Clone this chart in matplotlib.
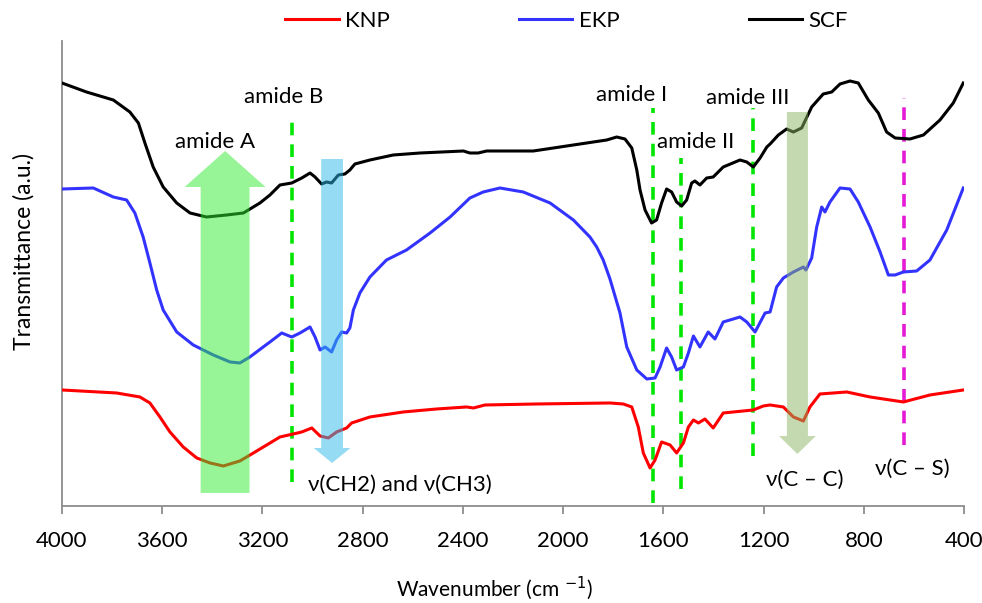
import numpy as np
import matplotlib.pyplot as plt

plt.rcParams['font.family'] = ['Lato', 'DejaVu Sans']

# FTIR spectra (offset, arbitrary transmittance units)
wn_scf = [4000, 3902, 3795, 3729, 3695, 3669, 3636, 3596, 3542, 3489, 3423, 3343,
          3276, 3210, 3170, 3130, 3083, 3043, 3010, 2990, 2964, 2944, 2924, 2897,
          2871, 2851, 2831, 2771, 2678, 2571, 2398, 2372, 2339, 2305, 2119, 2039,
          1906, 1826, 1786, 1753, 1726, 1706, 1693, 1673, 1647, 1627, 1607, 1587,
          1567, 1547, 1527, 1507, 1487, 1474, 1454, 1427, 1401, 1361, 1294, 1267,
          1241, 1214, 1187, 1174, 1141, 1108, 1081, 1048, 1008, 962, 928, 895,
          855, 822, 782, 742, 709, 675, 616, 562, 496, 443, 403]
t_scf = [423, 414, 406, 394, 383, 363, 339, 319, 303, 293, 289, 291,
         293, 303, 311, 321, 323, 328, 333, 329, 322, 324, 323, 331,
         332, 336, 342, 346, 351, 353, 355, 353, 353, 355, 355, 358,
         363, 366, 369, 367, 358, 336, 316, 296, 283, 286, 303, 317,
         314, 304, 300, 306, 323, 325, 321, 328, 329, 339, 346, 344,
         339, 348, 359, 362, 371, 377, 374, 378, 399, 412, 414, 422,
         425, 423, 406, 393, 374, 368, 367, 371, 386, 403, 423]

wn_ekp = [4000, 3875, 3795, 3742, 3709, 3676, 3649, 3622, 3596, 3542, 3476, 3396,
          3329, 3290, 3250, 3197, 3170, 3123, 3083, 3050, 3010, 2990, 2970, 2950,
          2924, 2904, 2884, 2864, 2851, 2837, 2811, 2771, 2705, 2625, 2531, 2451,
          2372, 2319, 2252, 2159, 2052, 1959, 1893, 1866, 1840, 1813, 1773, 1746,
          1706, 1666, 1633, 1613, 1587, 1567, 1547, 1520, 1500, 1480, 1454, 1421,
          1394, 1361, 1294, 1267, 1234, 1194, 1174, 1148, 1121, 1081, 1041, 1031,
          1008, 988, 968, 955, 935, 895, 855, 822, 775, 735, 702, 675,
          642, 589, 536, 469, 403]
t_ekp = [317, 318, 309, 306, 293, 269, 243, 216, 196, 174, 161, 151,
         144, 143, 149, 159, 164, 173, 169, 173, 179, 169, 156, 159,
         154, 166, 174, 173, 178, 196, 213, 229, 246, 256, 273, 289,
         308, 314, 318, 314, 303, 286, 269, 259, 246, 227, 193, 159,
         136, 127, 128, 139, 158, 149, 136, 139, 153, 170, 159, 174,
         167, 184, 189, 184, 174, 193, 194, 219, 228, 234, 239, 236,
         248, 279, 299, 294, 304, 318, 317, 304, 279, 254, 231, 231,
         234, 235, 246, 276, 318]

wn_knp = [4000, 3782, 3689, 3649, 3609, 3569, 3516, 3462, 3409, 3356, 3290, 3236,
          3183, 3130, 3077, 3043, 3003, 2970, 2937, 2904, 2864, 2844, 2771, 2638,
          2505, 2385, 2358, 2312, 2106, 1813, 1760, 1726, 1700, 1680, 1653, 1633,
          1607, 1573, 1547, 1520, 1500, 1480, 1460, 1434, 1401, 1361, 1241, 1201,
          1174, 1121, 1081, 1041, 1015, 975, 868, 775, 642, 536, 403]
t_knp = [116, 113, 109, 103, 89, 74, 59, 48, 43, 40, 45, 53,
         61, 69, 72, 74, 78, 70, 68, 74, 78, 83, 89, 94,
         97, 99, 98, 101, 102, 103, 102, 99, 79, 53, 38, 46,
         64, 61, 53, 63, 79, 86, 83, 87, 78, 93, 96, 100,
         101, 99, 89, 85, 99, 112, 114, 109, 104, 111, 116]

# band markers: (wavenumber, y bottom, y top)
amide_lines = [(3082, 24, 389), (1641, 3, 398), (1530, 17, 348), (1242, 50, 398)]
cs_line = (640, 61, 408)

fig = plt.figure(figsize=(9.82, 6.03), dpi=100)
ax = fig.add_axes([0.0631, 0.1609, 0.9186, 0.7711])

ax.plot(wn_knp, t_knp, color='#ff0000', lw=2.2, label='KNP', zorder=3)
ax.plot(wn_ekp, t_ekp, color='#3333ff', lw=2.2, label='EKP', zorder=3)
ax.plot(wn_scf, t_scf, color='black', lw=2.2, label='SCF', zorder=3)

for x, y0, y1 in amide_lines:
    ax.plot([x, x], [y0, y1], color='#00e600', lw=2.6, ls=(0, (3.5, 2.5)), zorder=2)
ax.plot([cs_line[0]] * 2, cs_line[1:], color='#e619d6', lw=2.6, ls=(0, (3.5, 2.5)), zorder=2)

# band arrows (translucent, on top of the spectra)
ax.arrow(3349, 13, 0, 342, width=195, head_width=323, head_length=36,
         length_includes_head=True, color='#31eb31', alpha=0.5, lw=0, zorder=4)
ax.arrow(2922, 347, 0, -304, width=87, head_width=147, head_length=15,
         length_includes_head=True, color='#2db9eb', alpha=0.5, lw=0, zorder=4)
ax.arrow(1065, 394, 0, -342, width=84, head_width=147, head_length=18,
         length_includes_head=True, color='#8bb561', alpha=0.5, lw=0, zorder=4)

fs = 16
ax.text(3389, 364, 'amide A', fontsize=fs, ha='center', va='center')
ax.text(3114, 409, 'amide B', fontsize=fs, ha='center', va='center')
ax.text(1725, 411, 'amide I', fontsize=fs, ha='center', va='center')
ax.text(1470, 364, 'amide II', fontsize=fs, ha='center', va='center')
ax.text(1262, 408, 'amide III', fontsize=fs, ha='center', va='center')
ax.text(3018, 21, 'ν(CH2) and ν(CH3)', fontsize=fs, ha='left', va='center')
ax.text(1035, 26, 'ν(C – C)', fontsize=fs, ha='center', va='center')
ax.text(608, 37, 'ν(C – S)', fontsize=fs, ha='center', va='center')

ax.set_xlim(4000, 400)
ax.set_ylim(0, 465)
ax.set_xticks(np.arange(4000, 399, -400))
ax.set_yticks([])
for s in ['top', 'right']:
    ax.spines[s].set_visible(False)
for s in ['left', 'bottom']:
    ax.spines[s].set_color('#8c8c8c')
    ax.spines[s].set_linewidth(1.3)
ax.tick_params(axis='x', direction='out', length=6, width=1.3, color='#8c8c8c',
               labelsize=16, pad=12)

ax.set_xlabel('Wavenumber (cm $^{-1}$)', fontsize=15)
ax.set_ylabel('Transmittance (a.u.)', fontsize=16.5)
ax.xaxis.set_label_coords(0.479, -0.147)
ax.yaxis.set_label_coords(-0.030, 0.548)

fig.legend(loc='center', bbox_to_anchor=(0.577, 0.965), ncol=3, frameon=False,
           fontsize=16, handlelength=2.4, columnspacing=5.8, handletextpad=0.3)

fig.savefig('out.png', dpi=100)
